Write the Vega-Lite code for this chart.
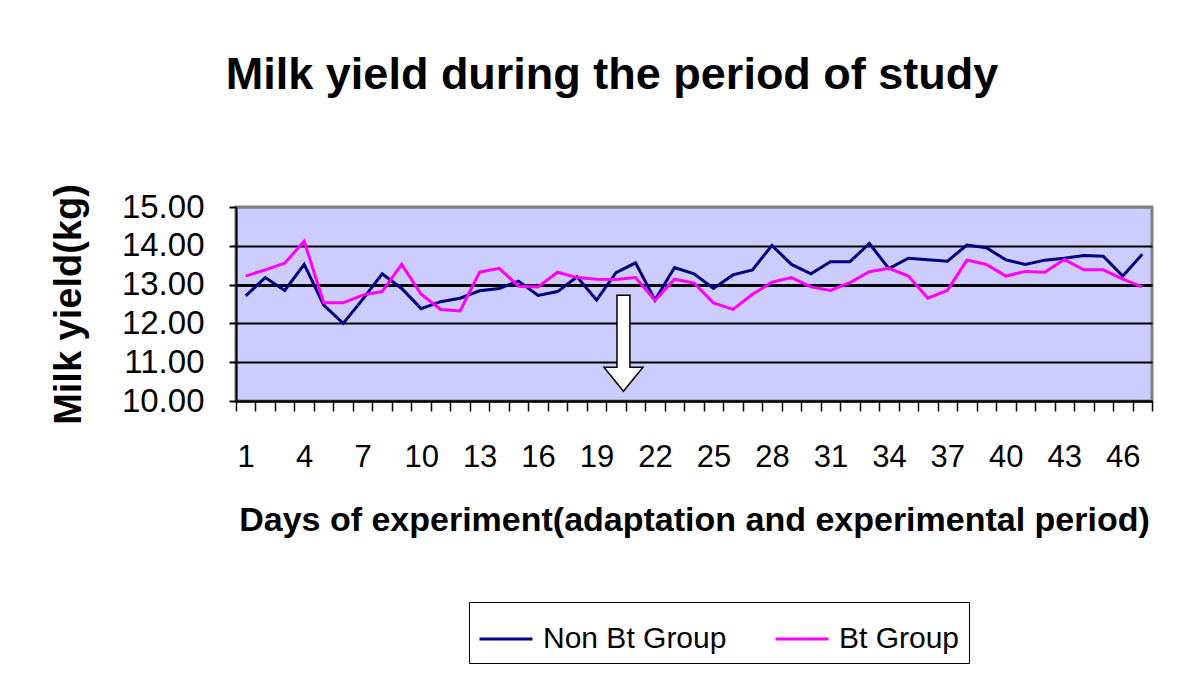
{
  "$schema": "https://vega.github.io/schema/vega-lite/v6.json",
  "width": 916,
  "height": 194,
  "padding": {"left": 50, "top": 52, "right": 24, "bottom": 10},
  "background": "white",
  "title": {
    "text": "Milk yield during the period of study",
    "font": "Liberation Sans",
    "fontSize": 45,
    "fontWeight": "bold",
    "color": "black",
    "anchor": "middle",
    "frame": "bounds",
    "offset": 86,
    "dx": 6
  },
  "datasets": {
    "milk": [
      {"day": 1, "group": "Non Bt Group", "yield": 12.71},
      {"day": 2, "group": "Non Bt Group", "yield": 13.18},
      {"day": 3, "group": "Non Bt Group", "yield": 12.85},
      {"day": 4, "group": "Non Bt Group", "yield": 13.52},
      {"day": 5, "group": "Non Bt Group", "yield": 12.47},
      {"day": 6, "group": "Non Bt Group", "yield": 12.0},
      {"day": 7, "group": "Non Bt Group", "yield": 12.62},
      {"day": 8, "group": "Non Bt Group", "yield": 13.28},
      {"day": 9, "group": "Non Bt Group", "yield": 12.9},
      {"day": 10, "group": "Non Bt Group", "yield": 12.38},
      {"day": 11, "group": "Non Bt Group", "yield": 12.56},
      {"day": 12, "group": "Non Bt Group", "yield": 12.65},
      {"day": 13, "group": "Non Bt Group", "yield": 12.84},
      {"day": 14, "group": "Non Bt Group", "yield": 12.9},
      {"day": 15, "group": "Non Bt Group", "yield": 13.09},
      {"day": 16, "group": "Non Bt Group", "yield": 12.72},
      {"day": 17, "group": "Non Bt Group", "yield": 12.82},
      {"day": 18, "group": "Non Bt Group", "yield": 13.2},
      {"day": 19, "group": "Non Bt Group", "yield": 12.6},
      {"day": 20, "group": "Non Bt Group", "yield": 13.31},
      {"day": 21, "group": "Non Bt Group", "yield": 13.56},
      {"day": 22, "group": "Non Bt Group", "yield": 12.6},
      {"day": 23, "group": "Non Bt Group", "yield": 13.44},
      {"day": 24, "group": "Non Bt Group", "yield": 13.28},
      {"day": 25, "group": "Non Bt Group", "yield": 12.9},
      {"day": 26, "group": "Non Bt Group", "yield": 13.25},
      {"day": 27, "group": "Non Bt Group", "yield": 13.38},
      {"day": 28, "group": "Non Bt Group", "yield": 14.01},
      {"day": 29, "group": "Non Bt Group", "yield": 13.52},
      {"day": 30, "group": "Non Bt Group", "yield": 13.28},
      {"day": 31, "group": "Non Bt Group", "yield": 13.59},
      {"day": 32, "group": "Non Bt Group", "yield": 13.59},
      {"day": 33, "group": "Non Bt Group", "yield": 14.06},
      {"day": 34, "group": "Non Bt Group", "yield": 13.41},
      {"day": 35, "group": "Non Bt Group", "yield": 13.68},
      {"day": 36, "group": "Non Bt Group", "yield": 13.64},
      {"day": 37, "group": "Non Bt Group", "yield": 13.6},
      {"day": 38, "group": "Non Bt Group", "yield": 14.02},
      {"day": 39, "group": "Non Bt Group", "yield": 13.95},
      {"day": 40, "group": "Non Bt Group", "yield": 13.64},
      {"day": 41, "group": "Non Bt Group", "yield": 13.52},
      {"day": 42, "group": "Non Bt Group", "yield": 13.63},
      {"day": 43, "group": "Non Bt Group", "yield": 13.68},
      {"day": 44, "group": "Non Bt Group", "yield": 13.75},
      {"day": 45, "group": "Non Bt Group", "yield": 13.73},
      {"day": 46, "group": "Non Bt Group", "yield": 13.22},
      {"day": 47, "group": "Non Bt Group", "yield": 13.78},
      {"day": 1, "group": "Bt Group", "yield": 13.22},
      {"day": 2, "group": "Bt Group", "yield": 13.38},
      {"day": 3, "group": "Bt Group", "yield": 13.55},
      {"day": 4, "group": "Bt Group", "yield": 14.12},
      {"day": 5, "group": "Bt Group", "yield": 12.53},
      {"day": 6, "group": "Bt Group", "yield": 12.53},
      {"day": 7, "group": "Bt Group", "yield": 12.73},
      {"day": 8, "group": "Bt Group", "yield": 12.82},
      {"day": 9, "group": "Bt Group", "yield": 13.52},
      {"day": 10, "group": "Bt Group", "yield": 12.75},
      {"day": 11, "group": "Bt Group", "yield": 12.36},
      {"day": 12, "group": "Bt Group", "yield": 12.32},
      {"day": 13, "group": "Bt Group", "yield": 13.32},
      {"day": 14, "group": "Bt Group", "yield": 13.42},
      {"day": 15, "group": "Bt Group", "yield": 12.96},
      {"day": 16, "group": "Bt Group", "yield": 12.94},
      {"day": 17, "group": "Bt Group", "yield": 13.32},
      {"day": 18, "group": "Bt Group", "yield": 13.18},
      {"day": 19, "group": "Bt Group", "yield": 13.14},
      {"day": 20, "group": "Bt Group", "yield": 13.13},
      {"day": 21, "group": "Bt Group", "yield": 13.18},
      {"day": 22, "group": "Bt Group", "yield": 12.59},
      {"day": 23, "group": "Bt Group", "yield": 13.14},
      {"day": 24, "group": "Bt Group", "yield": 13.04},
      {"day": 25, "group": "Bt Group", "yield": 12.53},
      {"day": 26, "group": "Bt Group", "yield": 12.36},
      {"day": 27, "group": "Bt Group", "yield": 12.75},
      {"day": 28, "group": "Bt Group", "yield": 13.06},
      {"day": 29, "group": "Bt Group", "yield": 13.18},
      {"day": 30, "group": "Bt Group", "yield": 12.94},
      {"day": 31, "group": "Bt Group", "yield": 12.85},
      {"day": 32, "group": "Bt Group", "yield": 13.05},
      {"day": 33, "group": "Bt Group", "yield": 13.33},
      {"day": 34, "group": "Bt Group", "yield": 13.42},
      {"day": 35, "group": "Bt Group", "yield": 13.22},
      {"day": 36, "group": "Bt Group", "yield": 12.65},
      {"day": 37, "group": "Bt Group", "yield": 12.85},
      {"day": 38, "group": "Bt Group", "yield": 13.63},
      {"day": 39, "group": "Bt Group", "yield": 13.52},
      {"day": 40, "group": "Bt Group", "yield": 13.22},
      {"day": 41, "group": "Bt Group", "yield": 13.34},
      {"day": 42, "group": "Bt Group", "yield": 13.32},
      {"day": 43, "group": "Bt Group", "yield": 13.65},
      {"day": 44, "group": "Bt Group", "yield": 13.38},
      {"day": 45, "group": "Bt Group", "yield": 13.38},
      {"day": 46, "group": "Bt Group", "yield": 13.14},
      {"day": 47, "group": "Bt Group", "yield": 12.94}
    ],
    "arrow": [{"day": 20.38, "yield": 11.49}]
  },
  "layer": [
    {
      "data": {"name": "milk"},
      "mark": {"type": "line", "strokeWidth": 3},
      "encoding": {
        "x": {
          "field": "day",
          "type": "quantitative",
          "scale": {"domain": [0.5, 47.5], "nice": false, "zero": false},
          "axis": {
            "title": "Days of experiment(adaptation and experimental period)",
            "values": [0.5,1.5,2.5,3.5,4.5,5.5,6.5,7.5,8.5,9.5,10.5,11.5,12.5,13.5,14.5,15.5,16.5,17.5,18.5,19.5,20.5,21.5,22.5,23.5,24.5,25.5,26.5,27.5,28.5,29.5,30.5,31.5,32.5,33.5,34.5,35.5,36.5,37.5,38.5,39.5,40.5,41.5,42.5,43.5,44.5,45.5,46.5,47.5],
            "tickCount": 48,
            "labelExpr": "((datum.value - 0.5) % 3 == 0 && datum.value < 47) ? format(datum.value + 0.5, 'd') : ''",
            "labelOffset": 9.74,
            "labelOverlap": false,
            "labelFlush": false,
            "labelBound": false,
            "labelFontSize": 31,
            "labelPadding": 31,
            "tickSize": 10,
            "tickWidth": 1.5,
            "grid": false,
            "titleFontSize": 34,
            "titleFontWeight": "bold",
            "titlePadding": 31
          }
        },
        "y": {
          "field": "yield",
          "type": "quantitative",
          "scale": {"domain": [10, 15], "nice": false, "zero": false},
          "axis": {
            "title": "Milk yield(kg)",
            "values": [10, 11, 12, 13, 14, 15],
            "tickCount": 6,
            "format": ".2f",
            "labelOverlap": false,
            "labelFontSize": 33,
            "labelPadding": 25,
            "tickSize": 7,
            "tickWidth": 2,
            "grid": true,
            "gridColor": {"condition": {"test": "datum.value == 15", "value": "#808080"}, "value": "black"},
            "gridWidth": {"condition": {"test": "datum.value == 13", "value": 3}, "value": 2},
            "titleFontSize": 38,
            "titleFontWeight": "bold",
            "titlePadding": 33
          }
        },
        "color": {
          "field": "group",
          "type": "nominal",
          "scale": {"domain": ["Non Bt Group", "Bt Group"], "range": ["#000080", "#FF00FF"]},
          "legend": {
            "title": null,
            "orient": "none",
            "legendX": 233,
            "legendY": 395,
            "direction": "horizontal",
            "strokeColor": "black",
            "fillColor": "white",
            "padding": 9,
            "symbolType": "stroke",
            "symbolSize": 2809,
            "symbolStrokeWidth": 3,
            "labelFont": "Liberation Sans",
            "labelFontSize": 30,
            "labelColor": "black",
            "labelLimit": 400,
            "labelOffset": 9,
            "columnPadding": 42
          }
        }
      }
    },
    {
      "data": {"name": "arrow"},
      "mark": {
        "type": "point",
        "shape": "M-0.135,-1L0.135,-1L0.135,0.5L0.406,0.5L0,1L-0.406,0.5L-0.135,0.5Z",
        "size": 9216,
        "filled": true,
        "fill": "white",
        "stroke": "black",
        "strokeWidth": 1.5,
        "opacity": 1
      },
      "encoding": {
        "x": {"field": "day", "type": "quantitative"},
        "y": {"field": "yield", "type": "quantitative"}
      }
    }
  ],
  "config": {
    "view": {"fill": "#CCCCFF", "stroke": "#808080", "strokeWidth": 3},
    "axis": {
      "labelFont": "Liberation Sans",
      "titleFont": "Liberation Sans",
      "labelColor": "black",
      "titleColor": "black",
      "domainColor": "black",
      "domainWidth": 2,
      "tickColor": "black"
    }
  }
}
